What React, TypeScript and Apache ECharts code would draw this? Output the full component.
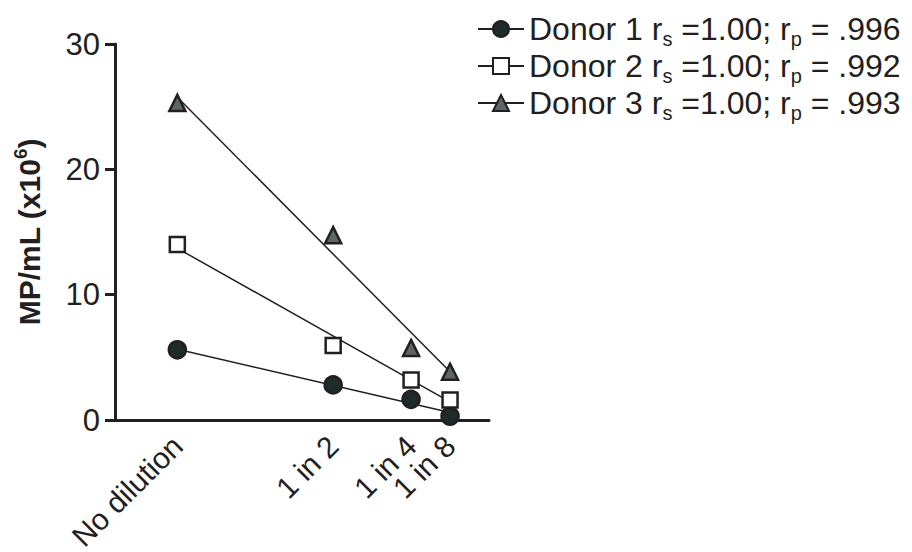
import React, { useEffect, useRef } from "react";
import * as echarts from "echarts";

const categories = ["No dilution", "1 in 2", "1 in 4", "1 in 8"];
const dilution = [1, 0.5, 0.25, 0.125];
const donor1 = [5.6, 2.8, 1.65, 0.3];
const donor2 = [14.0, 5.95, 3.2, 1.6];
const donor3 = [25.3, 14.75, 5.75, 3.85];
// fitted regression line endpoints at dilution 1 and 1/8
const fitX = [1, 0.125];
const fit1 = [5.65, 0.6];
const fit2 = [13.7, 1.45];
const fit3 = [25.75, 3.85];
const yTicks = [0, 10, 20, 30];
const names = [
  "Donor 1 r{s|s} =1.00; r{s|p} = .996",
  "Donor 2 r{s|s} =1.00; r{s|p} = .992",
  "Donor 3 r{s|s} =1.00; r{s|p} = .993",
];

const FONT = "'Liberation Sans', Arial, Helvetica, sans-serif";
const INK = "#231f20";

export default function App() {
  const ref = useRef<HTMLDivElement>(null);
  useEffect(() => {
    if (!ref.current) return;
    const chart = echarts.init(ref.current, undefined, { renderer: "svg" });
    const pts = (vals: number[], xs: number[]) => vals.map((v, i) => [xs[i], v]);
    const markers = [
      { symbol: "circle", fill: "#1e2b2b", data: donor1, fit: fit1, size: 17 },
      { symbol: "rect", fill: "#ffffff", data: donor2, fit: fit2, size: 15 },
      { symbol: "triangle", fill: "#5e6767", data: donor3, fit: fit3, size: 16 },
    ];
    const series: any[] = [];
    markers.forEach((m, i) => {
      series.push({
        type: "line",
        name: names[i],
        data: pts(m.fit, fitX),
        symbol: m.symbol,
        symbolSize: m.size,
        showSymbol: false,
        lineStyle: { color: INK, width: 1.5 },
        itemStyle: { color: m.fill, borderColor: INK, borderWidth: 2.5 },
        z: 2,
      });
    });
    markers.forEach((m, i) => {
      series.push({
        type: "scatter",
        name: names[i],
        data: pts(m.data, dilution),
        symbol: m.symbol,
        symbolSize: m.size,
        itemStyle: { color: m.fill, borderColor: INK, borderWidth: 2.5, opacity: 1 },
        z: 3,
      });
    });
    const labelFmt = (v: number) => {
      const idx = dilution.findIndex((d) => Math.abs(d - v) < 1e-6);
      return idx >= 0 ? categories[idx] : "";
    };
    const xBase = (values: number[], showLine: boolean) => ({
      type: "value",
      position: "bottom",
      offset: 0,
      min: 0,
      max: 1.2,
      inverse: true,
      splitLine: { show: false },
      axisLine: { show: showLine, onZero: false, lineStyle: { color: INK, width: 3 } },
      axisTick: { show: false },
      axisLabel: {
        customValues: values,
        rotate: 45,
        margin: 21,
        fontSize: 30,
        color: INK,
        fontFamily: FONT,
        hideOverlap: false,
        formatter: labelFmt,
      },
    });
    chart.setOption({
      animation: false,
      textStyle: { fontFamily: FONT },
      grid: { left: 115, right: 423, top: 44, bottom: 132, containLabel: false, outerBoundsMode: "none" },
      xAxis: [
        xBase([dilution[0], dilution[1], dilution[3]], true),
        xBase([dilution[2]], false),
      ],
      yAxis: {
        type: "value",
        position: "left",
        min: 0,
        max: 30,
        interval: 10,
        name: "MP/mL (x10{sup|6})",
        nameLocation: "middle",
        nameGap: 68,
        nameTextStyle: {
          fontSize: 30,
          fontWeight: "bold",
          color: INK,
          fontFamily: FONT,
          lineHeight: 36,
          rich: {
            sup: { fontSize: 19, fontWeight: "bold", lineHeight: 14, verticalAlign: "top", color: INK, fontFamily: FONT },
          },
        },
        splitLine: { show: false },
        axisLine: { show: true, onZero: false, lineStyle: { color: INK, width: 3 } },
        axisTick: { show: true, length: 10, lineStyle: { color: INK, width: 3 }, customValues: yTicks },
        axisLabel: { fontSize: 31, color: INK, margin: 15, fontFamily: FONT, customValues: yTicks },
      },
      legend: {
        orient: "vertical",
        left: 472,
        top: 4,
        itemWidth: 46,
        itemHeight: 20,
        itemGap: -3,
        data: names,
        formatter: (n: string) => n,
        textStyle: {
          fontSize: 32,
          color: INK,
          fontFamily: FONT,
          lineHeight: 34,
          rich: {
            s: { fontSize: 20, lineHeight: 12, padding: [20, 0, 0, 0], color: INK, fontFamily: FONT },
          },
        },
      },
      series,
    });
    return () => chart.dispose();
  }, []);
  return <div ref={ref} style={{ width: 912, height: 552, position: "absolute", left: 0, top: 0 }} />;
}
